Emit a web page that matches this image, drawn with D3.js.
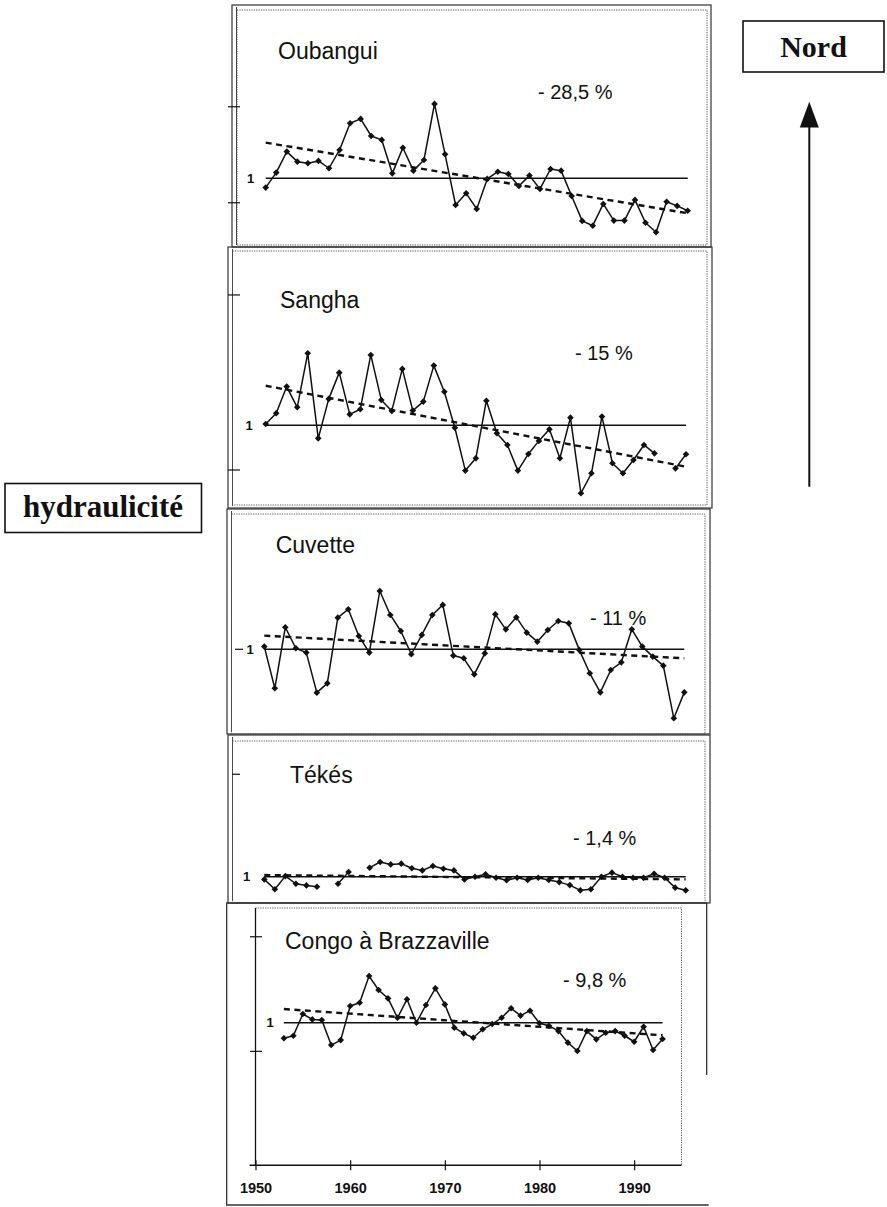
<!DOCTYPE html>
<html>
<head>
<meta charset="utf-8">
<script src="https://cdn.jsdelivr.net/npm/d3@7"></script>
<style>
  html, body { margin: 0; padding: 0; background: #fff; }
  svg { display: block; }
</style>
</head>
<body>
<svg id="chart" width="887" height="1207"></svg>
<script>
// ---------------- DATA ----------------
const yearStart = 1953, yearEnd = 1993;
const years = d3.range(yearStart, yearEnd + 1);
const xTickYears = [1950, 1960, 1970, 1980, 1990];

const titles = ["Oubangui", "Sangha", "Cuvette", "Tékés", "Congo à Brazzaville"];
const trendLabels = ["- 28,5 %", "- 15 %", "- 11 %", "- 1,4 %", "- 9,8 %"];

// hydraulicité (ratio to mean, 1 = mean), 1953-1993
const oubangui = [0.938, 1.038, 1.178, 1.111, 1.100, 1.116, 1.067, 1.189, 1.367, 1.396,
  1.282, 1.256, 1.033, 1.204, 1.051, 1.122, 1.496, 1.160, 0.822, 0.900,
  0.796, 0.996, 1.044, 1.029, 0.949, 1.018, 0.929, 1.062, 1.051, 0.882,
  0.716, 0.684, 0.829, 0.718, 0.718, 0.856, 0.704, 0.640, 0.844, 0.816, 0.784];
const sangha = [1.009, 1.080, 1.258, 1.120, 1.480, 0.913, 1.176, 1.351, 1.073, 1.107,
  1.469, 1.169, 1.096, 1.376, 1.098, 1.158, 1.398, 1.224, 0.984, 0.698,
  0.780, 1.164, 0.947, 0.869, 0.698, 0.809, 0.896, 0.973, 0.780, 1.051,
  0.547, 0.680, 1.058, 0.747, 0.680, 0.769, 0.869, 0.813, null, 0.713, 0.807];
const cuvette = [1.018, 0.740, 1.147, 1.007, 0.978, 0.711, 0.773, 1.211, 1.267, 1.089,
  0.978, 1.389, 1.229, 1.122, 0.967, 1.096, 1.229, 1.296, 0.958, 0.940,
  0.833, 0.973, 1.233, 1.133, 1.213, 1.111, 1.051, 1.129, 1.189, 1.173,
  0.996, 0.840, 0.713, 0.862, 0.913, 1.133, 1.018, 0.951, 0.891, 0.540, 0.713];
const tekes = [0.982, 0.916, 1.004, 0.953, 0.942, 0.933, null, 0.953, 1.031, null,
  1.060, 1.098, 1.082, 1.087, 1.056, 1.042, 1.071, 1.053, 1.042, 0.982,
  1.000, 1.016, 0.993, 0.976, 0.993, 0.978, 0.993, 0.978, 0.964, 0.944,
  0.909, 0.916, 1.000, 1.027, 1.000, 0.993, 0.993, 1.020, 0.993, 0.927, 0.909];
const congo = [0.896, 0.913, 1.058, 1.022, 1.018, 0.851, 0.884, 1.111, 1.133, 1.311,
  1.218, 1.162, 1.033, 1.156, 1.000, 1.118, 1.229, 1.122, 0.967, 0.929,
  0.900, 0.956, 0.991, 1.033, 1.096, 1.047, 1.080, 0.996, 0.980, 0.944,
  0.867, 0.811, 0.944, 0.889, 0.933, 0.944, 0.913, 0.873, 0.973, 0.818, 0.891];

// linear trend end values [1953, 1993]
const trendOubangui = [1.238, 0.767];
const trendSangha = [1.264, 0.724];
const trendCuvette = [1.091, 0.940];
const trendTekes = [1.011, 0.982];
const trendCongo = [1.091, 0.916];

// left-axis tick values per panel
const ticksOubangui = [1.477, 0.837];
const ticksSangha = [1.869, 0.702];
const ticksCuvette = [1.0];
const ticksTekes = [1.683];
const ticksCongo = [1.573, 0.809];

// ---------------- LAYOUT ----------------
const series = [oubangui, sangha, cuvette, tekes, congo];
const trends = [trendOubangui, trendSangha, trendCuvette, trendTekes, trendCongo];
const ticks = [ticksOubangui, ticksSangha, ticksCuvette, ticksTekes, ticksCongo];

const PX_PER_UNIT = 150;
const layout = [
  { outer: [232, 5, 479, 242], dotted: [237, 10, 470, 235], xr: [265.7, 687.7], oneY: 178.3, oneX: 250.5,
    title: [278, 59], pct: [538, 99], tickX: [228, 240] },
  { outer: [228, 247, 484, 261], dotted: [232.5, 251, 474.5, 254], xr: [265.7, 686], oneY: 425.3, oneX: 249,
    title: [280, 308], pct: [575, 360], tickX: [228, 240] },
  { outer: [227, 509, 483, 225], dotted: [231.5, 514, 473.5, 220], xr: [264.3, 684.3], oneY: 649.3, oneX: 250,
    title: [275.7, 553], pct: [590, 625], tickX: [235, 243] },
  { outer: [228, 735, 482, 168], dotted: [232.5, 741, 472.5, 162], xr: [264.3, 685.7], oneY: 876.7, oneX: 246.5,
    title: [290, 783], pct: [573, 845], tickX: [232, 240] },
  { outer: [226.7, 903, 480, 302], plot: [255.5, 908, 426, 257.3], xDomain: [1950, 1995], oneY: 1022.7, oneX: 270,
    title: [285, 949], pct: [563, 987], tickX: [250, 262] }
];

const INK = "#111";
const svg = d3.select("#chart");
svg.append("rect").attr("width", 887).attr("height", 1207).attr("fill", "#fff");

const diamond = d3.symbol().type(d3.symbolSquare).size(22);

// ---- Panels ----
layout.forEach((L, i) => {
  const g = svg.append("g");
  const [ox, oy, ow, oh] = L.outer;

  if (i < 4) {
    g.append("rect").attr("x", ox).attr("y", oy).attr("width", ow).attr("height", oh)
      .attr("fill", "none").attr("stroke", "#333").attr("stroke-width", 1.2);
    g.append("line").attr("x1", ox + 4.5).attr("x2", ox + 4.5).attr("y1", oy + 2).attr("y2", oy + oh - 2)
      .attr("stroke", "#444").attr("stroke-width", 1);
    const [dx, dy, dw, dh] = L.dotted;
    g.append("rect").attr("x", dx).attr("y", dy).attr("width", dw).attr("height", dh)
      .attr("fill", "none").attr("stroke", "#555").attr("stroke-width", 1).attr("stroke-dasharray", "1.2,1.2");
  } else {
    g.append("path")
      .attr("d", `M${ox + ow},${oy + 172} L${ox + ow},${oy} L${ox},${oy} L${ox},${oy + oh} L${ox + ow + 2},${oy + oh}`)
      .attr("fill", "none").attr("stroke", "#333").attr("stroke-width", 1.3);
    const [px, py, pw, ph] = L.plot;
    g.append("path")
      .attr("d", `M${px},${py} L${px + pw},${py} L${px + pw},${py + ph}`)
      .attr("fill", "none").attr("stroke", "#555").attr("stroke-width", 1).attr("stroke-dasharray", "1.2,1.2");
    g.append("line").attr("x1", px).attr("x2", px).attr("y1", py).attr("y2", py + ph)
      .attr("stroke", INK).attr("stroke-width", 1.3);
  }

  const x = i < 4
    ? d3.scaleLinear().domain([yearStart, yearEnd]).range(L.xr)
    : d3.scaleLinear().domain(L.xDomain).range([L.plot[0], L.plot[0] + L.plot[2]]);
  const y = d3.scaleLinear().domain([0, 1]).range([L.oneY + PX_PER_UNIT, L.oneY]);

  g.selectAll(".ytick").data(ticks[i]).join("line")
    .attr("x1", L.tickX[0]).attr("x2", L.tickX[1])
    .attr("y1", d => y(d)).attr("y2", d => y(d))
    .attr("stroke", INK).attr("stroke-width", 1.2);

  g.append("line").attr("x1", x(yearStart)).attr("x2", x(yearEnd))
    .attr("y1", y(1)).attr("y2", y(1)).attr("stroke", INK).attr("stroke-width", 1.5);
  g.append("text").attr("x", L.oneX).attr("y", y(1) + 4.5).attr("text-anchor", "middle")
    .attr("font-family", "Liberation Sans, Arial, sans-serif").attr("font-size", 13)
    .attr("font-weight", "bold").attr("fill", INK).text("1");

  const tr = trends[i];
  g.append("line").attr("x1", x(yearStart)).attr("x2", x(yearEnd))
    .attr("y1", y(tr[0])).attr("y2", y(tr[1]))
    .attr("stroke", INK).attr("stroke-width", 2.4).attr("stroke-dasharray", "6,4.5");

  const data = years.map((yr, k) => ({ yr, v: series[i][k] }));
  const line = d3.line().defined(d => d.v != null).x(d => x(d.yr)).y(d => y(d.v));
  g.append("path").datum(data).attr("d", line)
    .attr("fill", "none").attr("stroke", INK).attr("stroke-width", 1.5).attr("stroke-linejoin", "round");
  g.selectAll(".pt").data(data.filter(d => d.v != null)).join("path")
    .attr("transform", d => `translate(${x(d.yr)},${y(d.v)}) rotate(45)`)
    .attr("d", diamond)
    .attr("fill", INK);

  g.append("text").attr("x", L.title[0]).attr("y", L.title[1])
    .attr("font-family", "Liberation Sans, Arial, sans-serif").attr("font-size", 23).attr("fill", INK)
    .text(titles[i]);
  g.append("text").attr("x", L.pct[0]).attr("y", L.pct[1])
    .attr("font-family", "Liberation Sans, Arial, sans-serif").attr("font-size", 20).attr("fill", INK)
    .text(trendLabels[i]);

  if (i === 4) {
    const axisY = L.plot[1] + L.plot[3];
    const ax = g.append("g").attr("transform", `translate(0,${axisY})`)
      .call(d3.axisBottom(x).tickValues(xTickYears).tickFormat(d3.format("d")).tickSizeOuter(0).tickSizeInner(4));
    ax.select(".domain").attr("d", `M${x(1950) - 6},0H${L.plot[0] + L.plot[2]}`).attr("stroke", INK).attr("stroke-width", 1.6);
    ax.selectAll(".tick line").attr("y1", -5).attr("y2", 5).attr("stroke", INK).attr("stroke-width", 1.2);
    ax.selectAll(".tick text").attr("y", 17).attr("dy", "0.71em")
      .attr("font-family", "Liberation Sans, Arial, sans-serif").attr("font-size", 14.5)
      .attr("font-weight", "bold").attr("fill", INK);
  }
});

// ---- hydraulicité box ----
svg.append("rect").attr("x", 5).attr("y", 483.5).attr("width", 196.5).attr("height", 49)
  .attr("fill", "#fff").attr("stroke", INK).attr("stroke-width", 1.6);
svg.append("text").attr("x", 103).attr("y", 517).attr("text-anchor", "middle")
  .attr("font-family", "Liberation Serif, Times New Roman, serif").attr("font-weight", "bold")
  .attr("font-size", 31).attr("fill", INK).text("hydraulicité");

// ---- Nord box + arrow ----
svg.append("rect").attr("x", 743).attr("y", 21).attr("width", 141).attr("height", 51)
  .attr("fill", "#fff").attr("stroke", INK).attr("stroke-width", 1.6);
svg.append("text").attr("x", 813.5).attr("y", 57).attr("text-anchor", "middle")
  .attr("font-family", "Liberation Serif, Times New Roman, serif").attr("font-weight", "bold")
  .attr("font-size", 30).attr("fill", INK).text("Nord");
svg.append("line").attr("x1", 809.3).attr("x2", 809.3).attr("y1", 486.7).attr("y2", 124)
  .attr("stroke", INK).attr("stroke-width", 2);
svg.append("path").attr("d", "M809.3,101.7 L799.8,127.5 L818.8,127.5 Z").attr("fill", INK);
</script>
</body>
</html>
